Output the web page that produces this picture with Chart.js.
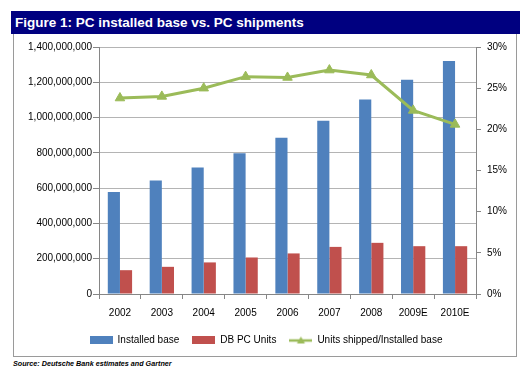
<!DOCTYPE html>
<html>
<head>
<meta charset="utf-8">
<script src="https://cdn.jsdelivr.net/npm/chart.js@4"></script>
<style>
  body { margin: 0; background: #fff; width: 523px; height: 376px; position: relative; overflow: hidden; }
  #title {
    position: absolute; left: 11px; top: 11px; width: 509px; height: 23px;
    background: #000080; color: #fff;
    font: bold 13.5px "Liberation Sans", Arial, sans-serif;
    line-height: 24px; padding-left: 4px; box-sizing: border-box;
  }
  #box {
    position: absolute; left: 13px; top: 34px; width: 504px; height: 323px;
    border: 1px solid #9a9a9a; border-top: none; box-sizing: border-box;
  }
  #chart { position: absolute; left: 1px; top: 1px; }
  #source {
    position: absolute; left: 13px; top: 359px;
    font: italic bold 7.2px "Liberation Sans", Arial, sans-serif; color: #000;
  }
</style>
</head>
<body>
<div id="title">Figure 1: PC installed base vs. PC shipments</div>
<div id="box"><canvas id="chart" width="502" height="321"></canvas></div>
<div id="source">Source: Deutsche Bank estimates and Gartner</div>
<script>
let years = ["2002", "2003", "2004", "2005", "2006", "2007", "2008", "2009E", "2010E"];
let installedBase = [578e6, 644e6, 717e6, 798e6, 885e6, 982e6, 1103e6, 1214e6, 1321e6];
let dbPcUnits = [135e6, 154e6, 179e6, 207e6, 230e6, 267e6, 290e6, 271e6, 271e6];
let shippedRatio = [23.8, 24.0, 25.0, 26.4, 26.3, 27.2, 26.6, 22.3, 20.6];

let blue = "#4F81BD";
let red = "#C0504D";
let green = "#9BBB59";
let font = { family: "'Liberation Sans', Arial, sans-serif", size: 10 };

// small icons for the legend
function boxIcon(color) {
    let c = document.createElement("canvas");
    c.width = 23; c.height = 8;
    let g = c.getContext("2d");
    g.fillStyle = color;
    g.fillRect(0, 0, 23, 8);
    return c;
}
function lineIcon(color) {
    let c = document.createElement("canvas");
    c.width = 23; c.height = 9;
    let g = c.getContext("2d");
    g.strokeStyle = color;
    g.lineWidth = 2.5;
    g.beginPath(); g.moveTo(0, 5); g.lineTo(23, 5); g.stroke();
    g.fillStyle = color;
    g.beginPath(); g.moveTo(11.5, 1); g.lineTo(15.5, 8); g.lineTo(7.5, 8); g.closePath(); g.fill();
    return c;
}
let icons = [boxIcon(blue), boxIcon(red), lineIcon(green)];

new Chart(document.getElementById("chart"), {
    type: "bar",
    data: {
        labels: years,
        datasets: [{
            label: "Installed base",
            data: installedBase,
            backgroundColor: blue,
            yAxisID: "y",
            order: 2
        }, {
            label: "DB PC Units",
            data: dbPcUnits,
            backgroundColor: red,
            yAxisID: "y",
            order: 2
        }, {
            type: "line",
            label: "Units shipped/Installed base",
            data: shippedRatio,
            borderColor: green,
            backgroundColor: green,
            borderWidth: 3,
            pointStyle: "triangle",
            pointRadius: 5.5,
            pointBorderWidth: 1,
            tension: 0,
            yAxisID: "y1",
            order: 1
        }]
    },
    options: {
        responsive: false,
        animation: false,
        layout: { padding: { top: 11, bottom: 1, left: 0, right: 0 } },
        datasets: { bar: { categoryPercentage: 0.58, barPercentage: 1.0 } },
        plugins: {
            tooltip: { enabled: false },
            legend: {
                position: "bottom",
                labels: {
                    font: font,
                    color: "#000",
                    usePointStyle: true,
                    pointStyleWidth: 23,
                    boxHeight: 8,
                    padding: 13,
                    generateLabels: function(chart) {
                        return chart.data.datasets.map(function(ds, i) {
                            return {
                                text: ds.label,
                                pointStyle: icons[i],
                                fillStyle: ds.backgroundColor,
                                strokeStyle: ds.backgroundColor,
                                lineWidth: 0,
                                fontColor: "#000",
                                datasetIndex: i
                            };
                        });
                    }
                }
            }
        },
        scales: {
            x: {
                grid: { drawOnChartArea: false, tickLength: 5, color: "#868686" },
                border: { color: "#868686", width: 1 },
                ticks: { font: font, color: "#000", padding: 8, maxRotation: 0 },
                afterFit: function(s) { s.height = 28; }
            },
            y: {
                position: "left",
                min: 0,
                max: 1400000000,
                ticks: {
                    stepSize: 200000000,
                    font: font,
                    color: "#000",
                    padding: 1,
                    callback: function(v) { return v.toLocaleString("en-US"); }
                },
                grid: { color: "#b4b4b4", tickLength: 6, tickColor: "#868686" },
                border: { color: "#868686", width: 1 },
                afterFit: function(s) { s.width = 84; }
            },
            y1: {
                position: "right",
                min: 0,
                max: 30,
                ticks: {
                    stepSize: 5,
                    font: font,
                    color: "#000",
                    padding: 6,
                    callback: function(v) { return v + "%"; }
                },
                grid: { drawOnChartArea: false, tickLength: 5, color: "#868686" },
                border: { color: "#868686", width: 1 },
                afterFit: function(s) { s.width = 41; }
            }
        }
    }
});
</script>
</body>
</html>
